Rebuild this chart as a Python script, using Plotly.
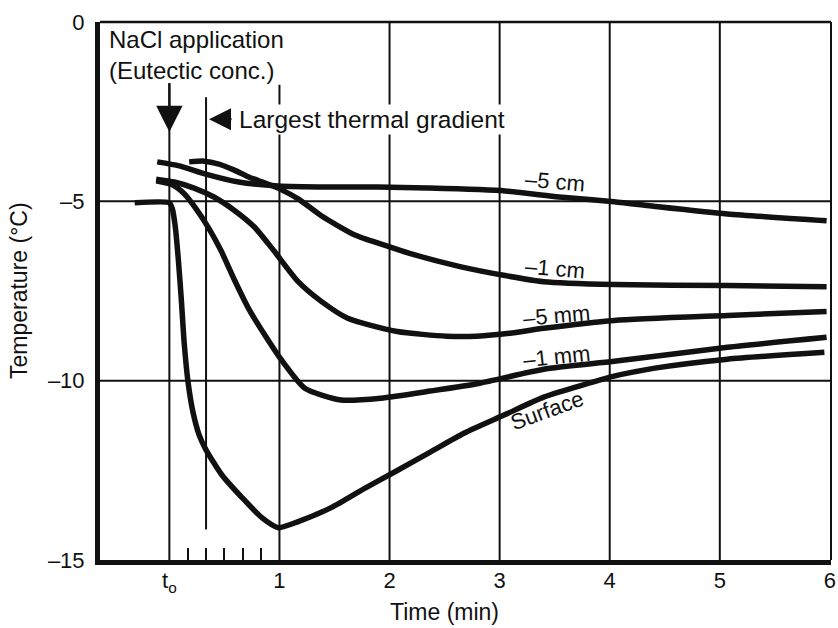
import plotly.graph_objects as go

# Temperature (°C) at several depths after NaCl application, time in minutes from t0
t_5cm = [-0.11, 0.09, 0.33, 0.63, 0.99, 1.44, 1.89, 2.34, 3.05, 3.54, 4.04, 4.44, 5.07, 5.97]
T_5cm = [-3.90, -4.01, -4.24, -4.46, -4.57, -4.60, -4.60, -4.63, -4.71, -4.88, -5.01, -5.15, -5.35, -5.54]

t_1cm = [0.18, 0.315, 0.45, 0.59, 0.72, 0.87, 1.02, 1.17, 1.38, 1.68, 1.94, 2.19, 2.64, 3.05, 3.40, 4.04, 5.07, 5.97]
T_1cm = [-3.90, -3.88, -3.96, -4.13, -4.32, -4.49, -4.68, -4.93, -5.40, -5.93, -6.21, -6.46, -6.82, -7.07, -7.24, -7.32, -7.35, -7.38]

t_5mm = [-0.12, 0.045, 0.225, 0.405, 0.585, 0.77, 0.95, 1.17, 1.38, 1.62, 2.07, 2.52, 2.79, 3.09, 3.40, 4.04, 5.07, 5.97]
T_5mm = [-4.38, -4.46, -4.63, -4.88, -5.24, -5.71, -6.38, -7.24, -7.79, -8.26, -8.63, -8.76, -8.76, -8.68, -8.54, -8.32, -8.18, -8.07]

t_1mm = [-0.12, 0.027, 0.135, 0.243, 0.36, 0.47, 0.585, 0.72, 0.87, 1.02, 1.23, 1.56, 1.92, 2.37, 2.82, 3.40, 4.04, 5.07, 5.97]
T_1mm = [-4.43, -4.54, -4.79, -5.21, -5.76, -6.38, -7.15, -7.99, -8.74, -9.43, -10.21, -10.54, -10.49, -10.29, -10.07, -9.68, -9.46, -9.07, -8.79]

t_surf = [-0.315, 0.0, 0.027, 0.054, 0.081, 0.108, 0.135, 0.171, 0.216, 0.27, 0.333, 0.477, 0.66, 0.84, 0.99,
          1.17, 1.47, 1.77, 2.05, 2.37, 2.68, 3.04, 3.40, 3.69, 4.03, 4.41, 5.07, 5.95]
T_surf = [-5.04, -5.04, -5.21, -5.71, -6.60, -7.71, -8.96, -10.07, -10.90, -11.51, -11.93, -12.63, -13.26, -13.82, -14.10,
          -13.93, -13.54, -13.01, -12.54, -11.99, -11.46, -10.96, -10.46, -10.18, -9.88, -9.65, -9.40, -9.21]

series = [
    ("–5 cm", t_5cm, T_5cm),
    ("–1 cm", t_1cm, T_1cm),
    ("–5 mm", t_5mm, T_5mm),
    ("–1 mm", t_1mm, T_1mm),
    ("Surface", t_surf, T_surf),
]

x_tickvals = [0, 1, 2, 3, 4, 5, 6]
x_ticktext = ["t<sub>o</sub>", "1", "2", "3", "4", "5", "6"]
y_tickvals = [0, -5, -10, -15]
y_ticktext = ["0", "–5", "–10", "–15"]
minor_ticks = [1 / 6, 2 / 6, 3 / 6, 4 / 6, 5 / 6]
gradient_time = 1 / 3

FONT = "Liberation Sans, Arial, Helvetica, sans-serif"
INK = "#111111"

fig = go.Figure()
for name, t, T in series:
    fig.add_trace(go.Scatter(
        x=t, y=T, mode="lines", name=name,
        line=dict(color=INK, width=5.5, shape="spline", smoothing=0.6),
        showlegend=False, hoverinfo="skip",
    ))

shapes = []
# vertical grid lines; the t0 and 1-min lines stop below the heading text
for xv, top in [(0, -1.70), (1, -1.75), (2, 0), (3, 0), (4, 0), (5, 0)]:
    shapes.append(dict(type="line", xref="x", yref="y", x0=xv, x1=xv, y0=-15, y1=top,
                       line=dict(color=INK, width=2), layer="below"))
# horizontal grid lines
for yv in [-5, -10]:
    shapes.append(dict(type="line", xref="paper", yref="y", x0=0, x1=1, y0=yv, y1=yv,
                       line=dict(color=INK, width=2), layer="below"))
# marker of the largest thermal gradient
shapes.append(dict(type="line", xref="x", yref="y", x0=gradient_time, x1=gradient_time, y0=-14.15, y1=-2.1,
                   line=dict(color=INK, width=2), layer="below"))
# top and right frame
shapes.append(dict(type="line", xref="paper", yref="paper", x0=0, x1=1, y0=1, y1=1,
                   line=dict(color=INK, width=2.5)))
shapes.append(dict(type="line", xref="paper", yref="paper", x0=1, x1=1, y0=0, y1=1,
                   line=dict(color=INK, width=2)))

annotations = [
    dict(text="NaCl application<br>(Eutectic conc.)", xref="x", yref="y", x=-0.57, y=0,
         xanchor="left", yanchor="top", yshift=-2, align="left", showarrow=False,
         font=dict(family=FONT, size=24, color=INK)),
    # application arrow at t0
    dict(text="", xref="x", yref="y", x=0, y=-3.07, ax=0, ay=-50, showarrow=True,
         arrowhead=2, arrowsize=2.4, arrowwidth=2.2, arrowcolor=INK, standoff=0),
    # arrow pointing at the gradient line
    dict(text="", xref="x", yref="y", x=0.36, y=-2.71, ax=24, ay=0, showarrow=True,
         arrowhead=2, arrowsize=2.0, arrowwidth=2.2, arrowcolor=INK, standoff=0),
    dict(text="Largest thermal gradient", xref="x", yref="y", x=0.61, y=-2.71,
         xanchor="left", yanchor="middle", showarrow=False, bgcolor="white", borderpad=1,
         font=dict(family=FONT, size=24.5, color=INK)),
    dict(text="–5 cm", xref="x", yref="y", x=3.50, y=-4.46, textangle=5, showarrow=False,
         font=dict(family=FONT, size=22, color=INK)),
    dict(text="–1 cm", xref="x", yref="y", x=3.50, y=-6.88, textangle=5, showarrow=False,
         font=dict(family=FONT, size=22, color=INK)),
    dict(text="–5 mm", xref="x", yref="y", x=3.52, y=-8.18, textangle=-5, showarrow=False,
         font=dict(family=FONT, size=22, color=INK)),
    dict(text="–1 mm", xref="x", yref="y", x=3.52, y=-9.32, textangle=-6, showarrow=False,
         font=dict(family=FONT, size=22, color=INK)),
    dict(text="Surface", xref="x", yref="y", x=3.43, y=-10.82, textangle=-20, showarrow=False,
         font=dict(family=FONT, size=22, color=INK)),
    # axis titles
    dict(text="Temperature (°C)", xref="paper", yref="y", x=0, y=-7.5, xshift=-81,
         xanchor="center", yanchor="middle", textangle=-90, showarrow=False,
         font=dict(family=FONT, size=23, color=INK)),
    dict(text="Time (min)", xref="x", yref="paper", x=2.5, y=0, yshift=-52,
         xanchor="center", yanchor="middle", showarrow=False,
         font=dict(family=FONT, size=23, color=INK)),
]

fig.update_layout(
    width=838, height=628,
    margin=dict(l=100, r=2, t=22, b=68),
    paper_bgcolor="white", plot_bgcolor="white",
    font=dict(family=FONT, size=22, color=INK),
    shapes=shapes, annotations=annotations,
    xaxis=dict(range=[-0.63, 6.01], tickmode="array", tickvals=x_tickvals, ticktext=x_ticktext,
               showgrid=False, zeroline=False, showline=True, linewidth=5, linecolor=INK,
               ticks="", ticklabelstandoff=-3, ticklabeloverflow="allow",
               tickfont=dict(family=FONT, size=22, color=INK),
               minor=dict(tickmode="array", tickvals=minor_ticks, ticks="inside", ticklen=12,
                          tickwidth=2, tickcolor=INK, showgrid=False)),
    yaxis=dict(range=[-15, 0], tickmode="array", tickvals=y_tickvals, ticktext=y_ticktext,
               showgrid=False, zeroline=False, showline=True, linewidth=5, linecolor=INK,
               ticks="", ticklabelstandoff=6, tickfont=dict(family=FONT, size=22, color=INK)),
)

fig.write_html("out.html")
